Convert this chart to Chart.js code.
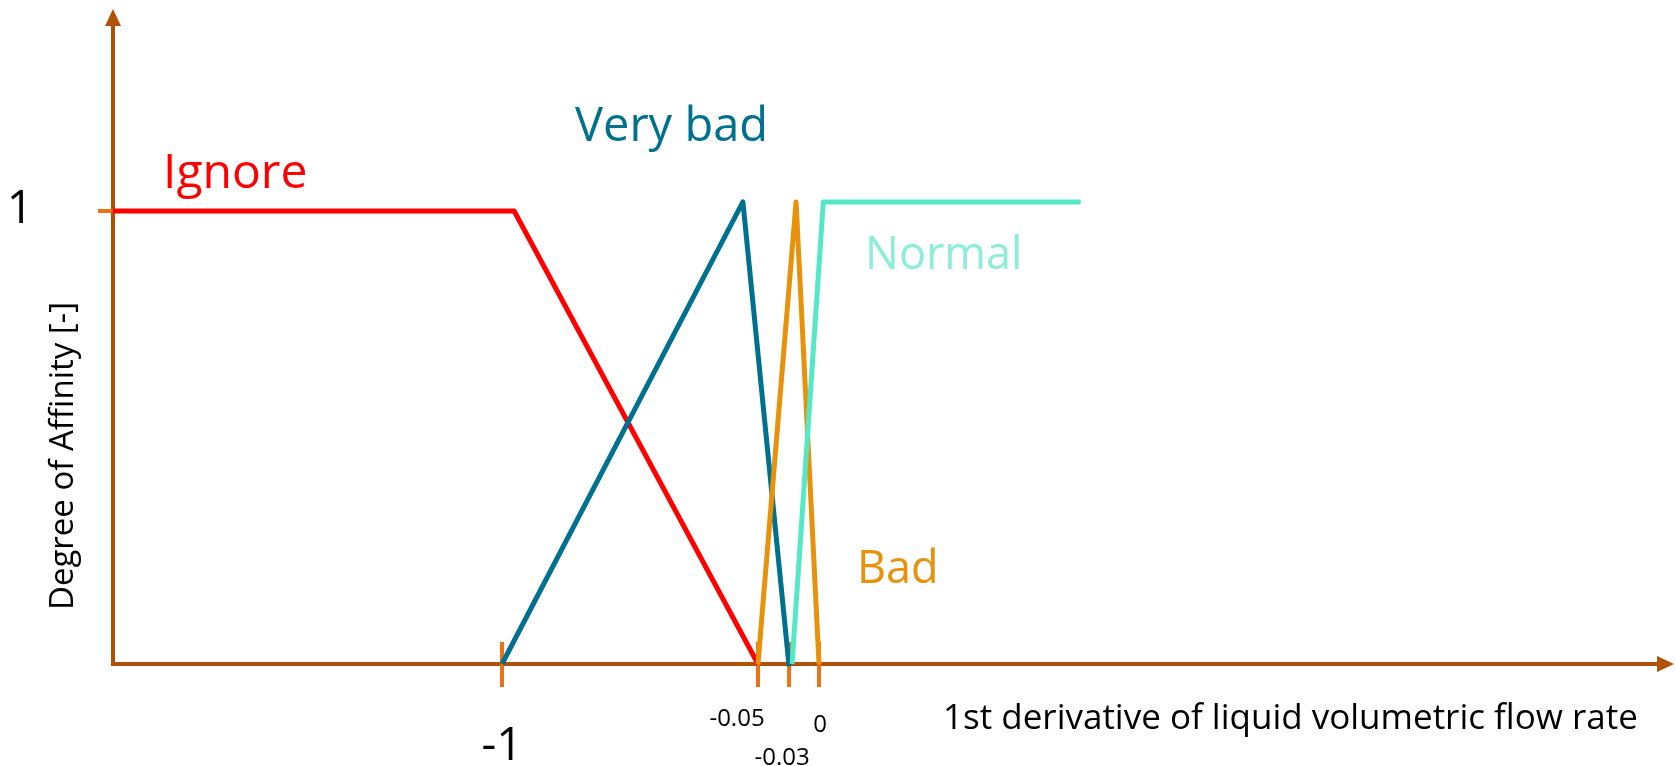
<!DOCTYPE html>
<html>
<head>
<meta charset="utf-8">
<script src="https://cdn.jsdelivr.net/npm/chart.js@4/dist/chart.umd.min.js"></script>
<style>
  body { margin: 0; background: #fff; }
  canvas { display: block; }
</style>
</head>
<body>
<canvas id="chart" width="1675" height="766"></canvas>
<script>
// membership functions (x axis is not to scale)
const ignoreX = [-2.5, -0.955, -0.05];
const ignoreY = [1, 1, 0];
const veryBadX = [-1, -0.106, -0.03];
const veryBadY = [0, 1.02, -0.005];
const badX = [-0.05, -0.023, 0];
const badY = [0, 1.02, 0];
const normalX = [-0.027, 0.005, 0.306];
const normalY = [0, 1.02, 1.02];

const xTicks = [-1, -0.05, -0.03, 0];
const xTickLabels = ["-1", "-0.05", "-0.03", "0"];
const yTicks = [1];
const yTickLabels = ["1"];

// the drawing stretches the region near zero, so the x scale is piecewise linear
const knots = [[-2.5, 0], [-1, 0.2492], [-0.05, 0.4132], [-0.03, 0.4331], [0, 0.4523], [1, 1]];

function warp(v) {
    for (let i = 1; i < knots.length; i++) {
        let [v0, d0] = knots[i - 1], [v1, d1] = knots[i];
        if (v <= v1 || i === knots.length - 1) {
            return d0 + (v - v0) / (v1 - v0) * (d1 - d0);
        }
    }
}
function unwarp(d) {
    for (let i = 1; i < knots.length; i++) {
        let [v0, d0] = knots[i - 1], [v1, d1] = knots[i];
        if (d <= d1 || i === knots.length - 1) {
            return v0 + (d - d0) / (d1 - d0) * (v1 - v0);
        }
    }
}

class WarpedScale extends Chart.LinearScale {
    static id = "warped";
    getPixelForValue(value) {
        return this.getPixelForDecimal(warp(value));
    }
    getValueForPixel(pixel) {
        return unwarp(this.getDecimalForPixel(pixel));
    }
}
Chart.register(WarpedScale);

const AXIS = "#AF5207";
const TICK = "#EE7213";
const FONT = "'Open Sans', 'Noto Sans', sans-serif";

function pts(xs, ys) {
    return xs.map((x, i) => ({ x, y: ys[i] }));
}

const axesPlugin = {
    id: "sketchAxes",
    beforeDatasetsDraw(chart) {
        let { ctx, scales: { x, y } } = chart;
        let x0 = x.getPixelForValue(knots[0][0]);
        let y0 = y.getPixelForValue(0);
        let top = chart.chartArea.top;
        let right = chart.chartArea.right;
        ctx.save();
        ctx.strokeStyle = AXIS;
        ctx.fillStyle = AXIS;
        ctx.lineWidth = 4;
        ctx.beginPath();
        ctx.moveTo(x0, y0 + 2);
        ctx.lineTo(x0, top + 14);
        ctx.moveTo(x0 - 2, y0);
        ctx.lineTo(right - 14, y0);
        ctx.stroke();
        // arrow heads
        ctx.beginPath();
        ctx.moveTo(x0, top);
        ctx.lineTo(x0 - 8, top + 17);
        ctx.lineTo(x0 + 8, top + 17);
        ctx.closePath();
        ctx.fill();
        ctx.beginPath();
        ctx.moveTo(right, y0);
        ctx.lineTo(right - 17, y0 - 8);
        ctx.lineTo(right - 17, y0 + 8);
        ctx.closePath();
        ctx.fill();
        // tick marks
        ctx.strokeStyle = TICK;
        ctx.beginPath();
        xTicks.forEach((v) => {
            let px = x.getPixelForValue(v);
            ctx.moveTo(px, y0 - 22);
            ctx.lineTo(px, y0 + 23);
        });
        yTicks.forEach((v) => {
            let py = y.getPixelForValue(v);
            ctx.moveTo(x0 - 15, py);
            ctx.lineTo(x0 + 15, py);
        });
        ctx.stroke();
        ctx.restore();
    },
    afterDraw(chart) {
        let { ctx, scales: { x, y } } = chart;
        let x0 = x.getPixelForValue(knots[0][0]);
        let y0 = y.getPixelForValue(0);
        ctx.save();
        ctx.textAlign = "center";
        ctx.textBaseline = "alphabetic";
        ctx.fillStyle = "#000";

        // tick labels: the -1 and 1 are large, the small ones are staggered
        ctx.font = `46px ${FONT}`;
        ctx.fillText(yTickLabels[0], x0 - 93, y.getPixelForValue(yTicks[0]) + 12);
        ctx.fillText(xTickLabels[0], x.getPixelForValue(xTicks[0]), y0 + 96);
        ctx.font = `24px ${FONT}`;
        ctx.fillText(xTickLabels[1], x.getPixelForValue(xTicks[1]) - 21, y0 + 62);
        ctx.fillText(xTickLabels[2], x.getPixelForValue(xTicks[2]) - 7, y0 + 101);
        ctx.fillText(xTickLabels[3], x.getPixelForValue(xTicks[3]) + 1, y0 + 68);

        // axis titles
        ctx.textAlign = "left";
        ctx.font = `35px ${FONT}`;
        ctx.fillText("1st derivative of liquid volumetric flow rate", 943, 729);
        ctx.save();
        ctx.translate(73, 456);
        ctx.rotate(-Math.PI / 2);
        ctx.textAlign = "center";
        ctx.font = `33px ${FONT}`;
        ctx.fillText("Degree of Affinity [-]", 0, 0);
        ctx.restore();

        // series names
        ctx.font = `48px ${FONT}`;
        ctx.fillStyle = "#FF0000";
        ctx.fillText("Ignore", 163, 188);
        ctx.font = `47px ${FONT}`;
        ctx.fillStyle = "#00708F";
        ctx.fillText("Very bad", 575, 141);
        ctx.font = `45px ${FONT}`;
        ctx.fillStyle = "#8CEED8";
        ctx.fillText("Normal", 865, 269);
        ctx.fillStyle = "#E8920C";
        ctx.fillText("Bad", 857, 583);
        ctx.restore();
    },
};

const line = (label, data, color, order) => ({
    label,
    data,
    borderColor: color,
    borderWidth: 5,
    borderJoinStyle: "round",
    pointRadius: 0,
    tension: 0,
    fill: false,
    clip: false,
    order,
});

new Chart(document.getElementById("chart"), {
    type: "line",
    data: {
        datasets: [
            line("Ignore", pts(ignoreX, ignoreY), "#FF0000", 3),
            line("Very bad", pts(veryBadX, veryBadY), "#00708F", 2),
            line("Bad", pts(badX, badY), "#E8920C", 1),
            line("Normal", pts(normalX, normalY), "#55E8C6", 0),
        ],
    },
    options: {
        responsive: false,
        animation: false,
        layout: { padding: { left: 113, right: 1, top: 9, bottom: 102 } },
        plugins: { legend: { display: false }, tooltip: { enabled: false } },
        scales: {
            x: { type: "warped", min: -2.5, max: 1, display: false },
            y: { type: "linear", min: 0, max: 655 / 453, display: false },
        },
    },
    plugins: [axesPlugin],
});
</script>
</body>
</html>
